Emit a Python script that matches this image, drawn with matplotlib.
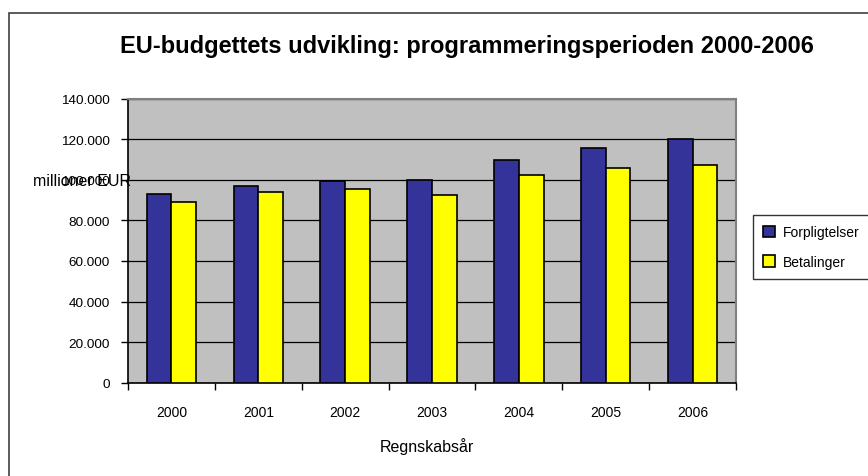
import matplotlib
matplotlib.use("Agg")
import matplotlib.pyplot as plt
import numpy as np
from matplotlib.ticker import FuncFormatter, FixedLocator
from matplotlib.patches import Rectangle

plt.rcParams['font.family'] = ['Liberation Sans', 'DejaVu Sans']

years = ["2000", "2001", "2002", "2003", "2004", "2005", "2006"]
forpligtelser = [93000, 96800, 99300, 100100, 109600, 115700, 120100]
betalinger = [89200, 93800, 95300, 92400, 102200, 105800, 107500]
series_names = ["Forpligtelser", "Betalinger"]
yticks = [0, 20000, 40000, 60000, 80000, 100000, 120000, 140000]

W, H = 868, 477
fig = plt.figure(figsize=(W / 100, H / 100), dpi=100)

# outer chart border (extends beyond image right/bottom)
fig.patches.append(Rectangle((9 / W, -0.1), 1.2, (H - 14) / H + 0.1, transform=fig.transFigure,
                             fill=False, edgecolor='#404040', linewidth=1.2))

ax = fig.add_axes([128 / W, 1 - 383.7 / H, (736 - 128) / W, (383.7 - 99.7) / H])
ax.set_facecolor('#C0C0C0')

x = np.arange(len(years))
bw = 0.285
ax.bar(x - bw / 2, forpligtelser, bw, color='#333399', edgecolor='black', linewidth=1.2,
       label=series_names[0], zorder=3)
ax.bar(x + bw / 2, betalinger, bw, color='#FFFF00', edgecolor='black', linewidth=1.2,
       label=series_names[1], zorder=3)

ax.set_xlim(-0.5, len(years) - 0.5)
ax.set_ylim(0, 140000)
ax.set_yticks(yticks)
ax.yaxis.set_major_formatter(FuncFormatter(lambda v, p: f"{int(v):,}".replace(",", ".")))
ax.yaxis.grid(True, color='black', linewidth=0.9, zorder=1)
ax.set_axisbelow(True)

ax.set_xticks(x)
ax.set_xticklabels(years)
ax.xaxis.set_minor_locator(FixedLocator(np.arange(-0.5, len(years), 1.0)))
ax.tick_params(axis='x', which='major', length=0, pad=16, labelsize=10)
ax.tick_params(axis='x', which='minor', length=5, width=1, color='black', direction='out')
ax.tick_params(axis='y', length=5, width=1, direction='out', labelsize=9.7, pad=8)

for s in ['top', 'right']:
    ax.spines[s].set_color('#808080')
    ax.spines[s].set_linewidth(1.5)
for s in ['left', 'bottom']:
    ax.spines[s].set_color('black')
    ax.spines[s].set_linewidth(1.2)

fig.text(33 / W, 1 - 181 / H, "millioner EUR", fontsize=11.5, ha='left', va='center')
fig.text(427 / W, 1 - 447 / H, "Regnskabsår", fontsize=11.5, ha='center', va='center')
fig.text(467 / W, 1 - 46 / H, "EU-budgettets udvikling: programmeringsperioden 2000-2006",
         fontsize=17, fontweight='bold', ha='center', va='center')

leg = fig.legend(loc='upper left', bbox_to_anchor=(753 / W, 1 - 216 / H), frameon=True,
                 fontsize=10, fancybox=False, edgecolor='black', handlelength=0.8,
                 handleheight=0.9, borderpad=0.75, labelspacing=1.1, handletextpad=0.6,
                 borderaxespad=0)
leg.get_frame().set_linewidth(1.0)

fig.savefig("out.png", dpi=100)
